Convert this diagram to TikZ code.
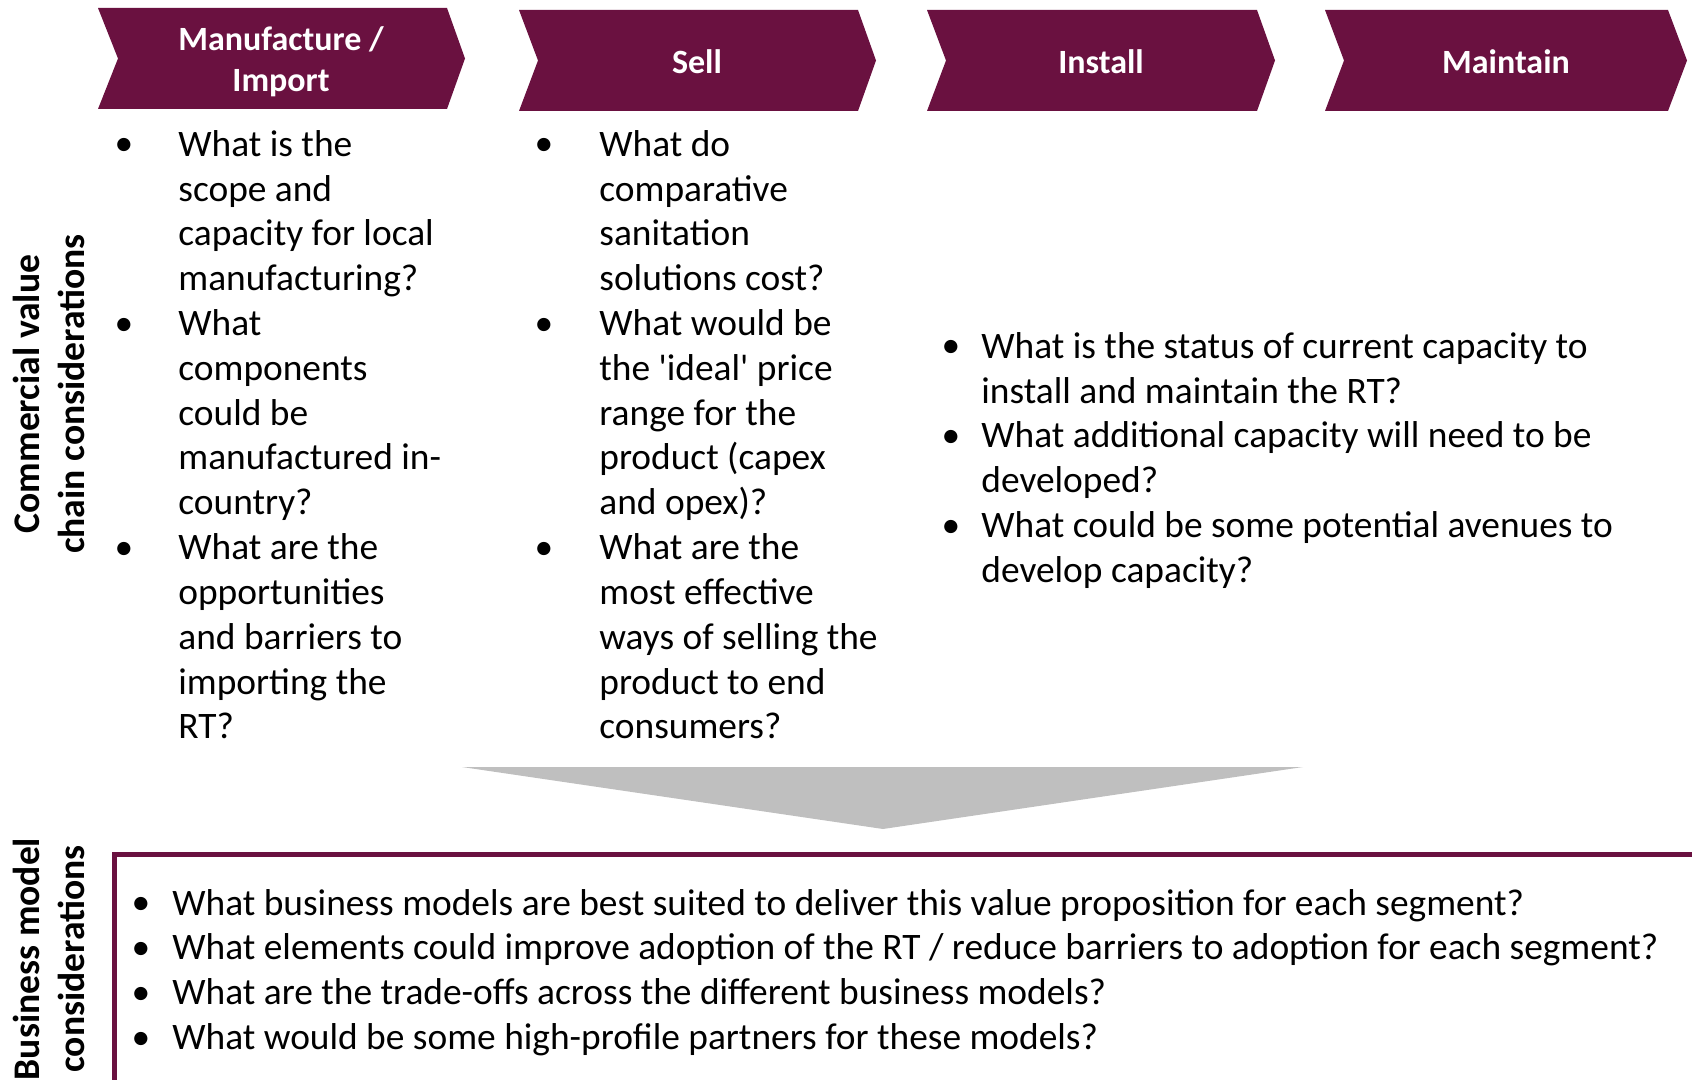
\documentclass[tikz,border=0pt]{standalone}
\usepackage{fontspec}
\setmainfont{Carlito}
\definecolor{wine}{RGB}{106,17,64}
\definecolor{arrowgrey}{RGB}{191,191,191}
\tikzset{
  chev/.style={fill=wine,draw=none},
  hdr/.style={text=white,align=center,font=\fontsize{17}{20.5}\selectfont\bfseries},
  qtext/.style={anchor=north west,inner sep=0pt,align=left,font=\fontsize{18.7}{22.4}\selectfont},
  dot/.style={anchor=base,inner sep=0pt,font=\fontsize{18.7}{22.4}\selectfont},
  side/.style={rotate=90,align=center,inner sep=0pt,font=\fontsize{18.8}{22.4}\selectfont\bfseries}
}
\begin{document}
\begin{tikzpicture}[x=0.5pt,y=-0.5pt]
  \clip (0,0) rectangle (1692,1080);
  % value chain steps
  \fill[chev] (98,8) -- (447,8) -- (465,58.5) -- (447,109) -- (98,109) -- (118,58.5) -- cycle;
  \fill[chev] (519,10) -- (858,10) -- (876,60.5) -- (858,111) -- (519,111) -- (538,60.5) -- cycle;
  \fill[chev] (927,10) -- (1257,10) -- (1275,60.5) -- (1257,111) -- (927,111) -- (946,60.5) -- cycle;
  \fill[chev] (1325,10) -- (1668,10) -- (1687,60.5) -- (1668,111) -- (1325,111) -- (1344,60.5) -- cycle;
  \node[hdr] (manuf) at (281,62) {Manufacture /\\Import};
  \node[hdr] (sell) at (697,61.5) {Sell};
  \node[hdr] (install) at (1101,61.5) {Install};
  \node[hdr] (maintain) at (1506,61.5) {Maintain};
  % side titles
  \node[side] (chainlbl) at (49,394) {Commercial value\\chain considerations};
  \node[side] (bizlbl) at (49,959) {Business model\\considerations};
  % manufacture / import questions
  \node[dot] at (124,156) {\textbullet};
  \node[dot] at (124,335.2) {\textbullet};
  \node[dot] at (124,559.2) {\textbullet};
  \node[qtext] (mq1) at (178,124.6) {\strut What is the\\scope and\\capacity for local\\manufacturing?};
  \node[qtext] (mq2) at (178,303.8) {\strut What\\components\\could be\\manufactured in-\\country?};
  \node[qtext] (mq3) at (178,528) {\strut What are the\\opportunities\\and barriers to\\importing the\\RT?};
  % sell questions
  \node[dot] at (544,156) {\textbullet};
  \node[dot] at (544,335.2) {\textbullet};
  \node[dot] at (544,559.2) {\textbullet};
  \node[qtext] (sq1) at (599,124.6) {\strut What do\\comparative\\sanitation\\solutions cost?};
  \node[qtext] (sq2) at (599,303.8) {\strut What would be\\the \textquotesingle ideal\textquotesingle{} price\\range for the\\product (capex\\and opex)?};
  \node[qtext] (sq3) at (599,528) {\strut What are the\\most effective\\ways of selling the\\product to end\\consumers?};
  % install / maintain questions
  \node[dot] at (951,358) {\textbullet};
  \node[dot] at (951,447.6) {\textbullet};
  \node[dot] at (951,537.2) {\textbullet};
  \node[qtext] (iq1) at (981,326.6) {\strut What is the status of current capacity to\\install and maintain the RT?};
  \node[qtext] (iq2) at (981,416.2) {\strut What additional capacity will need to be\\developed?};
  \node[qtext] (iq3) at (981,505.8) {\strut What could be some potential avenues to\\develop capacity?};
  % funnel arrow
  \fill[arrowgrey] (462,767) -- (1303,767) -- (883,829) -- cycle;
  % business model box
  \draw[wine,line width=2.5pt] (114.5,1200) -- (114.5,854.5) -- (1800,854.5);
  \node[dot] at (141,914.7) {\textbullet};
  \node[dot] at (141,959.5) {\textbullet};
  \node[dot] at (141,1004.3) {\textbullet};
  \node[dot] at (141,1049.1) {\textbullet};
  \node[qtext] (bq) at (172,883.3) {\strut What business models are best suited to deliver this value proposition for each segment?\\What elements could improve adoption of the RT / reduce barriers to adoption for each segment?\\What are the trade-offs across the different business models?\\What would be some high-profile partners for these models?};
\end{tikzpicture}
\end{document}
